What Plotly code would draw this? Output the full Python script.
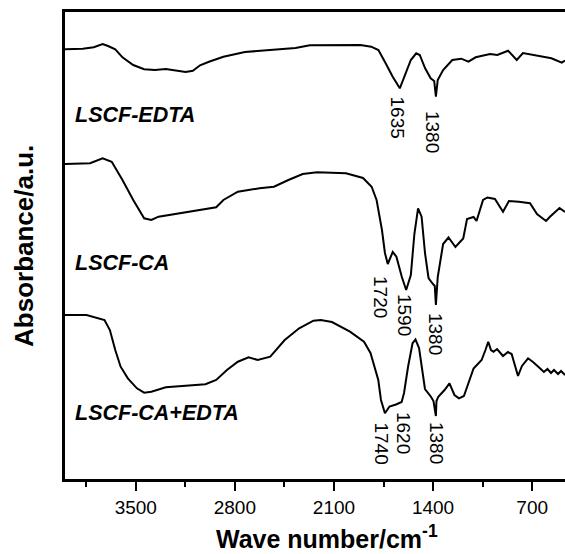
import plotly.graph_objects as go

# ---- data (wavenumber in cm^-1, absorbance in a.u. with vertical offsets) ----
edta_w = [4000, 3874, 3797, 3734, 3696, 3645, 3594, 3518, 3441, 3364, 3288, 3212, 3148, 3097,
          3046, 2983, 2881, 2729, 2575, 2372, 2270, 1913, 1837, 1786, 1735, 1685, 1635, 1608,
          1557, 1519, 1494, 1456, 1417, 1392, 1380, 1367, 1329, 1264, 1201, 1150, 1099, 997,
          946, 870, 809, 765, 645, 564, 491, 468]
edta_a = [4.297, 4.303, 4.317, 4.35, 4.33, 4.297, 4.217, 4.14, 4.097, 4.09, 4.10, 4.083, 4.07, 4.083,
          4.137, 4.173, 4.223, 4.27, 4.29, 4.31, 4.337, 4.34, 4.323, 4.29, 4.157, 4.023, 3.907, 4.007,
          4.19, 4.257, 4.24, 4.107, 4.007, 3.98, 3.823, 3.99, 4.09, 4.19, 4.203, 4.173, 4.217, 4.25,
          4.24, 4.283, 4.19, 4.26, 4.23, 4.207, 4.163, 4.185]

ca_w = [4000, 3823, 3734, 3670, 3594, 3518, 3441, 3390, 3339, 3186, 3034, 2932, 2881, 2779,
        2626, 2524, 2422, 2321, 2219, 2015, 1895, 1834, 1799, 1775, 1761, 1740, 1720, 1685,
        1659, 1621, 1590, 1557, 1532, 1506, 1481, 1457, 1432, 1407, 1388, 1380, 1372, 1367,
        1329, 1291, 1242, 1187, 1160, 1114, 1093, 1047, 1016, 963, 906, 864, 794, 715, 666,
        602, 574, 507, 468]
ca_a = [3.15, 3.157, 3.207, 3.173, 2.99, 2.79, 2.607, 2.59, 2.623, 2.657, 2.69, 2.717, 2.79, 2.873,
        2.907, 2.923, 2.99, 3.05, 3.067, 3.057, 3.01, 2.923, 2.79, 2.59, 2.49, 2.26, 2.15, 2.27,
        2.223, 2.023, 1.89, 2.04, 2.45, 2.707, 2.623, 2.26, 2.01, 1.96, 1.93, 1.74, 1.95, 2.02,
        2.35, 2.415, 2.32, 2.405, 2.60, 2.62, 2.58, 2.79, 2.815, 2.80, 2.673, 2.78, 2.773, 2.757, 2.65,
        2.58, 2.623, 2.71, 2.67]

caedta_w = [4000, 3848, 3721, 3683, 3645, 3607, 3556, 3492, 3441, 3390, 3288, 3135, 3008, 2932,
            2856, 2779, 2703, 2639, 2550, 2448, 2346, 2245, 2194, 2114, 1987, 1888, 1842, 1787,
            1768, 1740, 1708, 1662, 1622, 1605, 1577, 1545, 1524, 1499, 1457, 1415, 1397, 1380,
            1376, 1363, 1319, 1284, 1249, 1217, 1182, 1114, 1057, 1030, 1010, 991, 973, 948, 906,
            871, 845, 800, 772, 729, 694, 645, 617, 592, 567, 546, 517, 496, 468]
caedta_a = [1.64, 1.64, 1.59, 1.49, 1.29, 1.123, 1.007, 0.907, 0.863, 0.873, 0.917, 0.93, 0.947, 0.99,
            1.09, 1.173, 1.217, 1.19, 1.223, 1.39, 1.507, 1.583, 1.59, 1.57, 1.473, 1.373, 1.26, 0.99,
            0.79, 0.657, 0.725, 0.745, 0.77, 0.86, 1.12, 1.357, 1.395, 1.31, 0.90, 0.823, 0.78, 0.63,
            0.78, 0.823, 0.89, 0.957, 0.84, 0.807, 0.83, 1.105, 1.19, 1.29, 1.373, 1.29, 1.273, 1.30, 1.23,
            1.27, 1.25, 1.03, 1.13, 1.207, 1.17, 1.107, 1.07, 1.10, 1.06, 1.09, 1.05, 1.08, 1.04]

series_names = ["LSCF-EDTA", "LSCF-CA", "LSCF-CA+EDTA"]
series_label_y = [3.645, 2.16, 0.66]

# peak labels: (text, x wavenumber, y)
peak_text = ["1635", "1380", "1720", "1590", "1380", "1740", "1620", "1380"]
peak_x = [1648, 1400, 1768, 1598, 1379, 1764, 1605, 1372]
peak_y = [3.615, 3.47, 1.82, 1.64, 1.45, 0.36, 0.46, 0.36]

FONT = "Liberation Sans, Arial, sans-serif"

fig = go.Figure()
for w, a, n in [(edta_w, edta_a, series_names[0]), (ca_w, ca_a, series_names[1]),
                (caedta_w, caedta_a, series_names[2])]:
    fig.add_trace(go.Scatter(x=w, y=a, mode="lines", name=n,
                             line=dict(color="black", width=2), showlegend=False))

annotations = []
for n, yy in zip(series_names, series_label_y):
    annotations.append(dict(x=3943, y=yy, xref="x", yref="y", text="<b><i>%s</i></b>" % n,
                            showarrow=False, xanchor="left", yanchor="middle",
                            font=dict(family=FONT, size=21.5, color="black")))
for t, xx, yy in zip(peak_text, peak_x, peak_y):
    annotations.append(dict(x=xx, y=yy, xref="x", yref="y", text=t, textangle=90,
                            showarrow=False, xanchor="center", yanchor="middle",
                            font=dict(family=FONT, size=19, color="black")))
annotations.append(dict(x=0.524, y=-0.124, xref="paper", yref="paper",
                        text="<b>Wave number/cm<sup>-1</sup></b>", showarrow=False,
                        xanchor="center", yanchor="middle",
                        font=dict(family=FONT, size=25, color="black")))
annotations.append(dict(x=-0.082, y=0.499, xref="paper", yref="paper",
                        text="<b>Absorbance/a.u.</b>", showarrow=False, textangle=-90,
                        xanchor="center", yanchor="middle",
                        font=dict(family=FONT, size=26, color="black")))

fig.update_layout(
    width=565, height=554,
    margin=dict(l=65, r=0, t=12, b=75),
    paper_bgcolor="white", plot_bgcolor="white",
    annotations=annotations,
    xaxis=dict(range=[4000, 468], showgrid=False, zeroline=False, automargin=False,
               showline=True, linecolor="black", linewidth=2.5, mirror=True,
               ticks="outside", ticklen=9, tickwidth=2, tickcolor="black",
               tick0=0, dtick=700,
               minor=dict(dtick=350, tick0=0, ticks="outside", ticklen=5, tickwidth=2,
                          tickcolor="black", showgrid=False),
               tickfont=dict(family=FONT, size=19, color="black")),
    yaxis=dict(range=[0, 4.67], showgrid=False, zeroline=False, automargin=False,
               showline=True, linecolor="black", linewidth=2.5, mirror=False,
               showticklabels=False, ticks=""),
)

fig.write_html("out.html", config={"displayModeBar": False},
               post_script="document.body.style.margin='0';document.body.style.overflow='hidden';")
